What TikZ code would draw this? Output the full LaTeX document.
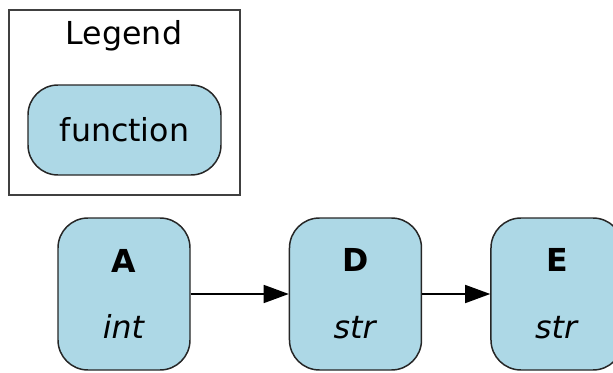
\documentclass[tikz,border=0pt]{standalone}
\usepackage{fontspec}
\setmainfont{DejaVu Sans}
\usetikzlibrary{positioning,arrows.meta}
\tikzset{>={Triangle[length=0.5cm,width=0.36cm]}}
\definecolor{nodeblue}{HTML}{ADD8E6}

\begin{document}
\begin{tikzpicture}[
funcnode/.style={rectangle, rounded corners=0.6cm, align=center, draw=black!85, line width=0.85pt, fill=nodeblue, minimum width=2.64cm, minimum height=3.04cm, font=\fontsize{18pt}{38pt}\selectfont},
legendbox/.style={rectangle, draw=black!75, line width=1.1pt, minimum width=4.62cm, minimum height=3.7cm},
]
\useasboundingbox (0,0) rectangle (12.26,7.44);
%Legend
\node[legendbox](Legend Box) at (2.49,5.39){};
\node[font=\fontsize{18pt}{22pt}\selectfont](Legend) at (2.48,6.72){Legend};
\node[funcnode, minimum width=3.86cm, minimum height=1.8cm](Function) at (2.49,4.84){function};

%Nodes
\node[funcnode](A) at (2.48,1.56){\textbf{A}\\\textit{int}};
\node[funcnode](D)[right=1.96cm of A]{\textbf{D}\\\textit{str}};
\node[funcnode](E)[right=1.36cm of D]{\textbf{E}\\\textit{str}};

%Lines
\draw[->, line width=0.85pt] (A) -- (D);
\draw[->, line width=0.85pt] (D) -- (E);
\end{tikzpicture}
\end{document}
